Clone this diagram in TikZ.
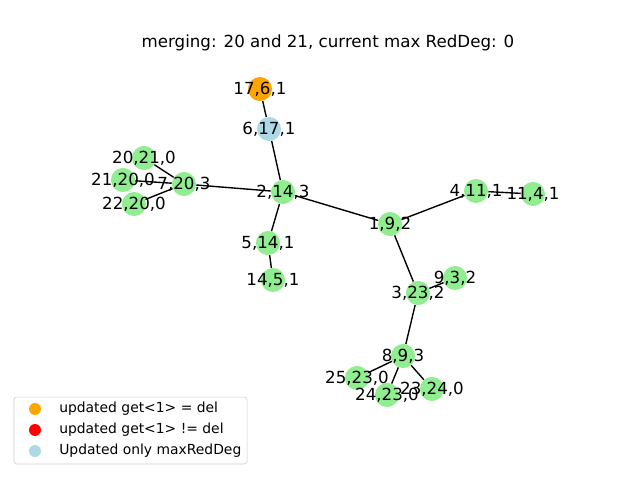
\documentclass[tikz,border=0pt]{standalone}
\usepackage{fontspec}
\setmainfont{DejaVu Sans}
\usepackage{xcolor}
\usetikzlibrary{backgrounds}

\definecolor{lgreen}{HTML}{90EE90}
\definecolor{lblue}{HTML}{ADD8E6}
\definecolor{orng}{HTML}{FFA500}

\tikzset{
	vertex/.style={circle,fill=lgreen,minimum size=17.3pt,inner sep=0pt},
	lbl/.style={font=\fontsize{12}{14}\selectfont,inner sep=0pt},
	legtext/.style={font=\fontsize{10}{12}\selectfont,inner sep=0pt,anchor=west},
	legmark/.style={circle,minimum size=8.6pt,inner sep=0pt},
}

\begin{document}
\begin{tikzpicture}[x=0.72pt,y=-0.72pt]
		\useasboundingbox (0,0) rectangle (640,480);
		\node[lbl] (title) at (328,43) {merging: 20 and 21, current max RedDeg: 0};
		%
		\node[vertex,fill=orng] (n17) at (260,89) {};
		\node[vertex,fill=lblue] (n6) at (269,129) {};
		\node[vertex] (n20) at (144,158) {};
		\node[vertex] (n21) at (123,180) {};
		\node[vertex] (n7) at (184,184) {};
		\node[vertex] (n22) at (134,204) {};
		\node[vertex] (n2) at (283,192) {};
		\node[vertex] (n5) at (268,243) {};
		\node[vertex] (n14) at (273,280) {};
		\node[vertex] (n1) at (390,224) {};
		\node[vertex] (n4) at (476,191) {};
		\node[vertex] (n11) at (533,194) {};
		\node[vertex] (n9) at (455,278) {};
		\node[vertex] (n3) at (418,293) {};
		\node[vertex] (n8) at (403,356) {};
		\node[vertex] (n25) at (357,378) {};
		\node[vertex] (n24) at (387,395) {};
		\node[vertex] (n23) at (432,389) {};
		%
		\begin{scope}[on background layer]
		\path[-,line width=1pt]
		(n17) edge (n6)
		(n6) edge (n2)
		(n2) edge (n7)
		(n7) edge (n20)
		(n7) edge (n21)
		(n7) edge (n22)
		(n2) edge (n5)
		(n5) edge (n14)
		(n2) edge (n1)
		(n1) edge (n4)
		(n4) edge (n11)
		(n1) edge (n3)
		(n3) edge (n9)
		(n3) edge (n8)
		(n8) edge (n25)
		(n8) edge (n24)
		(n8) edge (n23);
		\end{scope}
		%
		\node[lbl] (t17) at (n17) {17,6,1};
		\node[lbl] (t6) at (n6) {6,17,1};
		\node[lbl] (t20) at (n20) {20,21,0};
		\node[lbl] (t21) at (n21) {21,20,0};
		\node[lbl] (t7) at (n7) {7,20,3};
		\node[lbl] (t22) at (n22) {22,20,0};
		\node[lbl] (t2) at (n2) {2,14,3};
		\node[lbl] (t5) at (n5) {5,14,1};
		\node[lbl] (t14) at (n14) {14,5,1};
		\node[lbl] (t1) at (n1) {1,9,2};
		\node[lbl] (t4) at (n4) {4,11,1};
		\node[lbl] (t11) at (n11) {11,4,1};
		\node[lbl] (t9) at (n9) {9,3,2};
		\node[lbl] (t3) at (n3) {3,23,2};
		\node[lbl] (t8) at (n8) {8,9,3};
		\node[lbl] (t25) at (n25) {25,23,0};
		\node[lbl] (t24) at (n24) {24,23,0};
		\node[lbl] (t23) at (n23) {23,24,0};
		%
		\node[draw=black!20,fill=white,rounded corners=2pt,minimum width=167.8pt,minimum height=48.2pt] (leg) at (130.5,430.5) {};
		\node[legmark,fill=orng] (m1) at (35,409) {};
		\node[legmark,fill=red] (m2) at (35,430) {};
		\node[legmark,fill=lblue] (m3) at (35,451) {};
		\node[legtext] (l1) at (59,409) {updated get<1> = del};
		\node[legtext] (l2) at (59,430) {updated get<1> != del};
		\node[legtext] (l3) at (59,451) {Updated only maxRedDeg};
\end{tikzpicture}
\end{document}
